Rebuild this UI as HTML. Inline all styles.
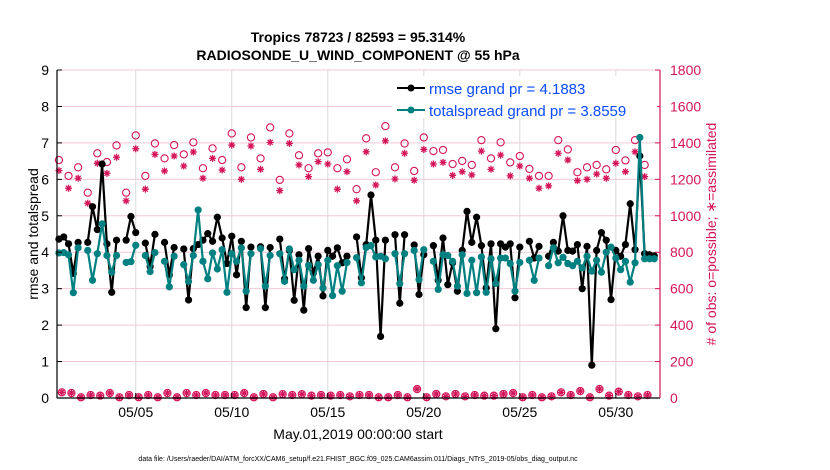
<!DOCTYPE html>
<html><head><meta charset="utf-8"><style>
body{margin:0;background:#fff;}
svg{display:block;font-family:"Liberation Sans",sans-serif;}
</style></head><body>
<svg id="chart" width="830" height="470" viewBox="0 0 830 470" xmlns="http://www.w3.org/2000/svg">
<rect x="0" y="0" width="830" height="470" fill="#fff"/>
<text x="358" y="42" text-anchor="middle" font-size="14" font-weight="bold">Tropics 78723 / 82593 = 95.314%</text>
<text x="358" y="60" text-anchor="middle" font-size="14" font-weight="bold">RADIOSONDE_U_WIND_COMPONENT @ 55 hPa</text>
<g id="grid"></g>
<g id="obs"></g>
<g id="series"></g>
<g id="axes"></g>
<text transform="translate(38,234) rotate(-90)" text-anchor="middle" font-size="14">rmse and totalspread</text>
<text transform="translate(716,234) rotate(-90)" text-anchor="middle" font-size="14" fill="#d4145a"># of obs: o=possible; ∗=assimilated</text>
<text x="358" y="439" text-anchor="middle" font-size="14">May.01,2019 00:00:00 start</text>
<text x="358" y="461" text-anchor="middle" font-size="7">data file: /Users/raeder/DAI/ATM_forcXX/CAM6_setup/f.e21.FHIST_BGC.f09_025.CAM6assim.011/Diags_NTrS_2019-05/obs_diag_output.nc</text>
<g id="legend">
<rect x="392" y="76" width="265" height="42" fill="#fff"/>
<line x1="397" y1="88" x2="425" y2="88" stroke="#000" stroke-width="2"/>
<circle cx="411" cy="88" r="3.5" fill="#000"/>
<text x="429" y="94" font-size="15" fill="#0a4bff">rmse grand pr = 4.1883</text>
<line x1="397" y1="110" x2="425" y2="110" stroke="#008080" stroke-width="2"/>
<circle cx="411" cy="110" r="3.5" fill="#008080"/>
<text x="429" y="116" font-size="15" fill="#0a4bff">totalspread grand pr = 3.8559</text>
</g>
</svg>
<script>
const rmse=[4.36,4.42,4.23,3.42,4.27,null,4.27,5.25,4.62,6.42,4.23,2.9,4.33,null,4.33,4.98,4.54,null,4.25,3.61,4.49,null,4.27,3.38,4.13,null,4.09,2.69,4.1,4.21,4.33,4.51,4.3,4.96,4.39,3.69,4.44,3.38,4.3,2.48,4.14,null,4.15,2.48,4.13,null,4.36,3.27,4.05,2.68,3.93,2.41,4.1,3.43,3.89,2.8,4.05,3.89,4.12,3.71,3.89,null,4.42,3.3,4.21,5.57,4.33,1.69,4.33,null,4.48,2.6,4.48,null,4.2,2.84,3.93,null,4.18,3.23,4.39,3.11,3.71,2.93,4.05,5.12,4.27,4.96,4.18,3.02,4.23,1.9,4.23,4.14,4.23,2.75,4.14,null,4.3,3.84,4.16,null,3.89,4.27,4.03,5.0,4.05,4.03,4.21,3.0,4.16,0.9,4.05,4.54,4.33,2.7,4.05,3.89,4.21,5.33,4.07,6.64,3.96,3.93,3.9];
const spread=[3.98,3.99,3.93,2.89,4.12,null,4.05,3.23,3.96,4.78,3.91,3.45,3.91,null,3.72,3.74,4.19,null,3.91,3.47,3.99,null,3.75,3.05,3.89,null,3.66,3.2,3.91,5.16,3.75,3.27,3.98,3.54,4.07,2.9,3.96,3.75,4.12,2.93,3.96,null,4.1,3.07,3.91,null,3.96,3.2,4.09,3.52,3.78,3.07,3.64,3.23,3.66,3.02,3.78,2.81,3.63,2.93,3.72,null,3.85,3.16,4.13,4.18,3.87,3.89,3.82,null,3.96,3.14,3.96,null,4.05,3.25,4.07,null,3.75,2.98,3.93,3.91,3.75,3.07,3.93,2.87,3.78,2.89,3.87,2.9,3.82,3.14,3.84,3.84,3.69,2.93,3.72,null,3.78,3.23,3.84,null,3.63,4.12,3.71,3.86,3.69,3.63,3.75,3.57,3.89,3.48,3.78,3.45,4.0,4.14,3.84,3.52,3.75,3.18,3.71,7.15,3.82,3.82,3.82];
const possible=[1306,1219,1266,1127,1343,1295,1386,1127,1441,1219,1397,1315,1388,1337,1403,1261,1370,1306,1452,1266,1430,1315,1485,1197,1452,1332,1261,1343,1348,1261,1310,1146,1425,1239,1492,1266,1397,1246,1430,1355,1361,1284,1301,1279,1415,1315,1403,1293,1328,1257,1219,1219,1415,1364,1239,1266,1279,1255,1361,1304,1415,1279];
const assimilated=[1248,1151,1206,1069,1288,1233,1321,1082,1368,1146,1337,1246,1328,1273,1350,1206,1315,1251,1388,1200,1383,1255,1403,1138,1397,1279,1215,1297,1284,1146,1242,1082,1351,1169,1411,1202,1343,1195,1364,1284,1293,1222,1242,1224,1355,1255,1333,1219,1273,1206,1151,1164,1343,1306,1193,1200,1229,1206,1288,1242,1351,1215];
const possibleLow=[31,27,4,16,13,27,4,16,4,16,4,27,4,27,16,27,16,16,16,27,4,22,4,21,16,21,13,16,13,16,9,16,16,4,4,16,4,49,4,22,9,22,9,16,13,13,22,27,4,16,4,9,31,16,38,4,49,13,35,16,9,16];
const assimilatedLow=[31,27,4,16,13,27,4,16,4,16,4,27,4,27,16,27,16,16,16,27,4,22,4,21,16,21,13,16,13,16,9,16,16,4,4,16,4,49,4,22,9,22,9,16,13,13,22,27,4,16,4,9,31,16,38,4,49,13,35,16,9,16];
const dateTicks=[5,10,15,20,25,30];
const dateLabels=["05/05","05/10","05/15","05/20","05/25","05/30"];
const leftTicks=[0,1,2,3,4,5,6,7,8,9];
const rightTicks=[0,200,400,600,800,1000,1200,1400,1600,1800];

const NS="http://www.w3.org/2000/svg";
const L=57,R=660,T=70,B=398,X0=0.9,X1=32.3;
const xs=d=>L+(d-X0)/(X1-X0)*(R-L);
const yl=v=>B-v/9*(B-T);
const yr=v=>B-v/1800*(B-T);
const RED="#d4145a";
function mk(tag,attrs,parent){const e=document.createElementNS(NS,tag);for(const k in attrs)e.setAttribute(k,attrs[k]);parent.appendChild(e);return e;}
const grid=document.getElementById('grid'),axes=document.getElementById('axes'),obs=document.getElementById('obs'),ser=document.getElementById('series');

rightTicks.forEach((t,i)=>{
  const g=mk('line',{x1:L,x2:R,y1:yr(t),y2:yr(t),stroke:'#f3c9d8','stroke-width':1},grid);
  
  
});
dateTicks.forEach((d,i)=>{
  const g=mk('line',{x1:xs(d),x2:xs(d),y1:T,y2:B,stroke:'#d9d9d9','stroke-width':1},grid);
  
  
  const tk=mk('line',{x1:xs(d),x2:xs(d),y1:B,y2:B-5,stroke:'#000'},axes);
  
  
  const tx=mk('text',{x:xs(d),y:B+19,'text-anchor':'middle','font-size':14},axes);
  tx.textContent=dateLabels[i];
  
  
});
leftTicks.forEach(t=>{
  const tk=mk('line',{x1:L,x2:L+5,y1:yl(t),y2:yl(t),stroke:'#000'},axes);
  
  
  const tx=mk('text',{x:L-8,y:yl(t)+5,'text-anchor':'end','font-size':14},axes);
  tx.textContent=t;
  
  
});
rightTicks.forEach(t=>{
  const tk=mk('line',{x1:R,x2:R-5,y1:yr(t),y2:yr(t),stroke:RED},axes);
  
  
  const tx=mk('text',{x:R+10,y:yr(t)+5,'text-anchor':'start','font-size':14,fill:RED},axes);
  tx.textContent=t;
  
  
});
const la=mk('line',{x1:L,x2:L,y1:T,y2:B,stroke:'#000','stroke-width':1.2},axes);


const ba=mk('line',{x1:L,x2:R,y1:B,y2:B,stroke:'#000','stroke-width':1.2},axes);


const ra=mk('line',{x1:R,x2:R,y1:T,y2:B,stroke:RED,'stroke-width':1.2},axes);



function star(cx,cy,parent,name){
  const g=mk('path',{d:`M${cx-3.5},${cy}H${cx+3.5}M${cx},${cy-3.5}V${cy+3.5}M${cx-2.5},${cy-2.5}L${cx+2.5},${cy+2.5}M${cx-2.5},${cy+2.5}L${cx+2.5},${cy-2.5}`,stroke:RED,'stroke-width':1.3,fill:'none'},parent);
  
  
}
possible.forEach((v,i)=>{
  const d=1+i*0.5;
  const c=mk('circle',{cx:xs(d),cy:yr(v),r:3.6,fill:'none',stroke:RED,'stroke-width':1.1},obs);
  
  
});
assimilated.forEach((v,i)=>star(xs(1+i*0.5),yr(v),obs,'obs-assimilated'));
possibleLow.forEach((v,i)=>{
  const d=1.15+i*0.5;
  const c=mk('circle',{cx:xs(d),cy:yr(v),r:3.6,fill:'none',stroke:RED,'stroke-width':1.1},obs);
  
  
});
assimilatedLow.forEach((v,i)=>star(xs(1.15+i*0.5),yr(v),obs,'obs-assimilated-low'));

function drawSeries(arr,color,name,r){
  let d='',pen=false;
  arr.forEach((v,i)=>{
    if(v===null){pen=false;return;}
    const x=xs(1+i*0.25),y=yl(v);
    d+=(pen?'L':'M')+x.toFixed(1)+','+y.toFixed(1);
    pen=true;
  });
  const p=mk('path',{d:d,stroke:color,'stroke-width':2.2,fill:'none','stroke-linejoin':'round'},ser);
  
  
  arr.forEach((v,i)=>{
    if(v===null)return;
    const c=mk('circle',{cx:xs(1+i*0.25),cy:yl(v),r:r,fill:color},ser);
    
    
  });
}
drawSeries(rmse,'#000','rmse',3.6);
drawSeries(spread,'#008080','totalspread',3.6);
const lg=document.getElementById('legend');
document.getElementById('chart').appendChild(lg);
</script>
</body></html>
